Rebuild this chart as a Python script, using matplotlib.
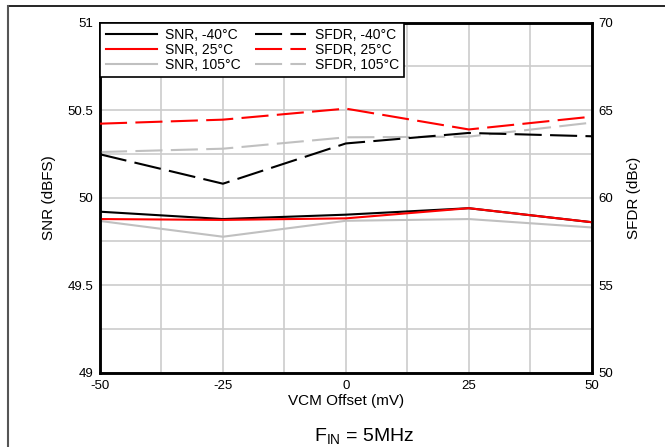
import numpy as np
import matplotlib
matplotlib.use('Agg')
import matplotlib.pyplot as plt
from matplotlib.lines import Line2D

plt.rcParams['font.family'] = ['Liberation Sans', 'DejaVu Sans']
plt.rcParams['mathtext.fontset'] = 'custom'
plt.rcParams['mathtext.rm'] = 'Liberation Sans'

vcm = [-50, -25, 0, 25, 50]
snr_m40 = [49.92, 49.878, 49.903, 49.94, 49.86]
snr_25 = [49.878, 49.873, 49.882, 49.94, 49.86]
snr_105 = [49.867, 49.777, 49.868, 49.878, 49.83]
sfdr_m40 = [62.48, 60.8, 63.1, 63.7, 63.51]
sfdr_25 = [64.23, 64.46, 65.09, 63.9, 64.63]
sfdr_105 = [62.61, 62.8, 63.45, 63.49, 64.29]
labels_snr = ['SNR, -40°C', 'SNR, 25°C', 'SNR, 105°C']
labels_sfdr = ['SFDR, -40°C', 'SFDR, 25°C', 'SFDR, 105°C']
colors = ['black', 'red', '#c0c0c0']

fig = plt.figure(figsize=(6.65, 4.47), dpi=100)
ax = fig.add_axes([100/665, 1-372.7/447, 491.7/665, 350/447])
ax2 = ax.twinx()

dash = (0, (13, 4))
h = []
for ys, c, lab in zip([snr_m40, snr_25, snr_105], colors, labels_snr):
    ln, = ax.plot(vcm, ys, color=c, lw=1.5, label=lab, zorder=3)
    h.append(ln)
for ys, c, lab in zip([sfdr_m40, sfdr_25, sfdr_105], colors, labels_sfdr):
    ln, = ax2.plot(vcm, ys, color=c, lw=1.5, ls=dash, label=lab, zorder=3)
    h.append(ln)
# gray lines sit under the others
for ln in h:
    if ln.get_color() == '#c0c0c0':
        ln.set_zorder(2)

ax.set_xlim(-50, 50)
ax.set_ylim(49, 51)
ax2.set_ylim(50, 70)
ax.set_xticks([-50, -25, 0, 25, 50])
ax.set_xticklabels(['-50', '-25', '0', '25', '50'])
ax.set_xticks(np.arange(-50, 51, 12.5), minor=True)
ax.set_yticks([49, 49.5, 50, 50.5, 51])
ax.set_yticklabels(['49', '49.5', '50', '50.5', '51'])
ax.set_yticks(np.arange(49, 51.01, 0.25), minor=True)
ax2.set_yticks([50, 55, 60, 65, 70])
ax.grid(True, which='both', color='#cccccc', lw=1.2)
ax.set_axisbelow(True)

for a in (ax, ax2):
    a.tick_params(which='both', length=0, labelsize=9.5, pad=5)
    for s in a.spines.values():
        s.set_linewidth(1.8)
        s.set_color('black')

ax.set_xlabel('VCM Offset (mV)', fontsize=11, labelpad=2)
ax.set_ylabel('SNR (dBFS)', fontsize=11, labelpad=8)
ax2.set_ylabel('SFDR (dBc)', fontsize=11, labelpad=10)

leg = ax2.legend(h, [l.get_label() for l in h], ncol=2, loc='upper left',
                 borderaxespad=0, fontsize=10, fancybox=False, framealpha=1,
                 edgecolor='black', handlelength=3.7, handletextpad=0.6,
                 columnspacing=1.0, labelspacing=0.05, borderpad=0.4)
leg.get_frame().set_linewidth(1.2)

fig.text(364/665, 1-437/447, r'F$_{\rm IN}$ = 5MHz', fontsize=14, ha='center', va='center')

fig.add_artist(Line2D([8/665, 1], [1-6/447, 1-6/447], color='black', lw=1.2))
fig.add_artist(Line2D([8/665, 8/665], [0, 1-6/447], color='#555555', lw=1.5))

fig.savefig('out.png', dpi=100)
